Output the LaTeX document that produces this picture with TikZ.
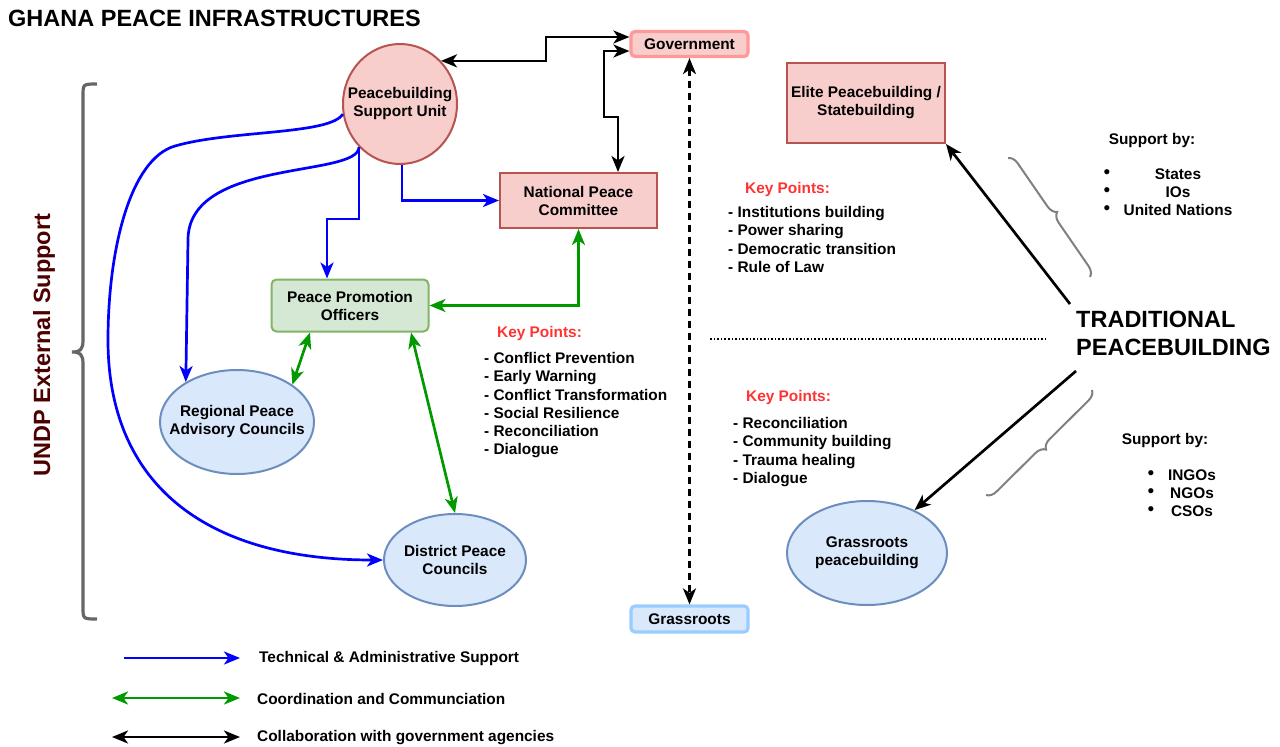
\documentclass[tikz,border=0pt]{standalone}
\usepackage{fontspec}
\setmainfont{Liberation Sans}
\usetikzlibrary{shapes.geometric,arrows.meta,decorations.pathreplacing}
\definecolor{pinkf}{HTML}{F8CECC}
\definecolor{pinkd}{HTML}{B85450}
\definecolor{bluef}{HTML}{DAE8FC}
\definecolor{blued}{HTML}{6C8EBF}
\definecolor{greenf}{HTML}{D5E8D4}
\definecolor{greend}{HTML}{82B366}
\definecolor{govd}{HTML}{FF9999}
\definecolor{grd}{HTML}{99CCFF}
\definecolor{conblue}{HTML}{0000FF}
\definecolor{congreen}{HTML}{009900}
\definecolor{keyred}{HTML}{FF3333}
\definecolor{maroon}{HTML}{4C0000}
\definecolor{brgray}{HTML}{666666}
\definecolor{brlight}{HTML}{808080}
\newcommand{\nf}{\fontsize{15.4}{18}\selectfont\bfseries}
\newcommand{\bigf}{\fontsize{23.5}{28}\selectfont\bfseries}
\begin{document}
\begin{tikzpicture}[x=1pt,y=-1pt,
  base/.style={font=\nf, align=center, inner sep=0pt},
  ell/.style={ellipse, draw, line width=2pt, inner sep=0pt},
  rbox/.style={base, rectangle, draw, line width=2pt},
  lbl/.style={base, align=left},
  bul/.style={font=\fontsize{19}{18}\selectfont, align=center, inner sep=0pt},
  con/.style={line width=2.7pt, -{Stealth[length=16pt,width=13pt,inset=4.5pt]}},
  dcon/.style={line width=2.7pt, {Stealth[length=16pt,width=13pt,inset=4.5pt]}-{Stealth[length=16pt,width=13pt,inset=4.5pt]}},
  rbrace/.style={draw=brlight, line width=2pt, decorate, decoration={brace, amplitude=10pt}},
]
\useasboundingbox (0,0) rectangle (1280,747);

% title
\node[font=\bigf, anchor=west, inner sep=0pt] (title) at (8,18) {GHANA PEACE INFRASTRUCTURES};

% main nodes
\node[ell, fill=pinkf, draw=pinkd, minimum width=114, minimum height=120,
  label={[base]center:Peacebuilding\\Support Unit}] (psu) at (400,104) {};
\node[rbox, fill=pinkf, draw=govd, line width=3.2pt, rounded corners=4pt,
  minimum width=117, minimum height=25] (gov) at (689.5,44) {Government};
\node[rbox, fill=pinkf, draw=pinkd, minimum width=157, minimum height=55] (npc) at (578.5,200.5) {National Peace\\Committee};
\node[rbox, fill=pinkf, draw=pinkd, minimum width=158, minimum height=80] (elite) at (866,103) {Elite Peacebuilding /\\Statebuilding};
\node[rbox, fill=greenf, draw=greend, rounded corners=5pt, minimum width=157, minimum height=52] (ppo) at (350,305.5) {Peace Promotion\\Officers};
\node[ell, fill=bluef, draw=blued, minimum width=154, minimum height=104,
  label={[base]center:Regional Peace\\Advisory Councils}] (rpac) at (237,422) {};
\node[ell, fill=bluef, draw=blued, minimum width=142, minimum height=92,
  label={[base]center:District Peace\\Councils}] (dpc) at (455,560) {};
\node[rbox, fill=bluef, draw=grd, line width=3.2pt, rounded corners=4pt,
  minimum width=117, minimum height=26] (grass) at (689.5,619) {Grassroots};
\node[ell, fill=bluef, draw=blued, minimum width=160, minimum height=104,
  label={[base]center:Grassroots\\peacebuilding}] (gpb) at (867,553) {};

% traditional peacebuilding
\node[font=\bigf, align=left, anchor=west, inner sep=0pt] (trad) at (1076,333) {TRADITIONAL\\PEACEBUILDING};
\coordinate (tpA) at (1070,304);
\coordinate (tpB) at (1076,371);

% UNDP label and brace
\node[font=\bigf, text=maroon, rotate=90, inner sep=0pt] (undp) at (44,345) {UNDP External Support};
\draw[brgray, line width=3.2pt] (97,84) .. controls (83,84) and (83,84) .. (83,96) -- (83,340)
  .. controls (83,350) and (80,352) .. (72,352) .. controls (80,352) and (83,354) .. (83,364)
  -- (83,607) .. controls (83,619) and (83,619) .. (97,619);

% black connectors
\draw[dcon] (psu.north east) -| (546,37) -- ([yshift=7pt]gov.west);
\draw[dcon] ([yshift=-7pt]gov.west) -| (604,117) -| ([xshift=39.5pt]npc.north);
\draw[dcon, dashed, dash pattern=on 7pt off 5pt] (gov.south) -- (grass.north);

% blue connectors
\draw[con, conblue] ([xshift=2pt]psu.south) |- (npc.west);
\draw[con, conblue] (psu.south west) |- (327,219) -- ([xshift=-23pt]ppo.north);
\draw[con, conblue] (psu.south west) .. controls (358,178) and (188,158) .. (188,240) -- (rpac.142);
\draw[con, conblue] (psu.190) .. controls (330,135) and (230,130) .. (175,146)
  .. controls (130,159) and (108,250) .. (108,340)
  .. controls (108,480) and (200,560) .. (dpc.west);

% green connectors
\draw[dcon, congreen] (ppo.east) -| (npc.south);
\draw[dcon, congreen] ([xshift=-40pt]ppo.south) -- (rpac.34);
\draw[dcon, congreen] ([xshift=61pt]ppo.south) -- (dpc.north);

% traditional arrows
\draw[con] (tpA) -- (elite.south east);
\draw[con] (tpB) -- (gpb.42);

% separator
\coordinate (sepA) at (710,339);
\coordinate (sepB) at (1046,339);
\draw[line width=1.6pt, dotted] (sepA) -- (sepB);

% braces
\draw[rbrace] (1008,158) -- (1090,277);
\draw[rbrace] (1092,390) -- (986,495);

% key points
\node[base, text=keyred, anchor=west] (kp1) at (497,334) {Key Points:};
\node[lbl, anchor=north west, font=\fontsize{15.4}{18.2}\selectfont\bfseries] (kp1l) at (484,352.4)
  {- Conflict Prevention\\- Early Warning\\- Conflict Transformation\\- Social Resilience\\- Reconciliation\\- Dialogue};
\node[base, text=keyred, anchor=west] (kp2) at (745,190) {Key Points:};
\node[lbl, anchor=north west, font=\fontsize{15.4}{18.2}\selectfont\bfseries] (kp2l) at (728,206.4)
  {- Institutions building\\- Power sharing\\- Democratic transition\\- Rule of Law};
\node[base, text=keyred, anchor=west] (kp3) at (746,398) {Key Points:};
\node[lbl, anchor=north west, font=\fontsize{15.4}{18.2}\selectfont\bfseries] (kp3l) at (733,417.4)
  {- Reconciliation\\- Community building\\- Trauma healing\\- Dialogue};

% support by
\node[base] (sup1) at (1152,141) {Support by:};
\node[bul] (sup1b) at (1107,192) {•\\•\\•};
\node[base] (sup1i) at (1178,192) {States\\IOs\\United Nations};
\node[base] (sup2) at (1165,441) {Support by:};
\node[bul] (sup2b) at (1151,493) {•\\•\\•};
\node[base] (sup2i) at (1192,493) {INGOs\\NGOs\\CSOs};

% legend
\coordinate (l1a) at (124,658); \coordinate (l1b) at (240,658);
\coordinate (l2a) at (112,698); \coordinate (l2b) at (240,698);
\coordinate (l3a) at (112,737); \coordinate (l3b) at (240,737);
\draw[con, conblue] (l1a) -- (l1b);
\draw[dcon, congreen] (l2a) -- (l2b);
\draw[dcon] (l3a) -- (l3b);
\node[base, anchor=west] (lg1) at (259,659) {Technical \& Administrative Support};
\node[base, anchor=west] (lg2) at (257,699) {Coordination and Communciation};
\node[base, anchor=west] (lg3) at (257,738) {Collaboration with government agencies};
\end{tikzpicture}
\end{document}
